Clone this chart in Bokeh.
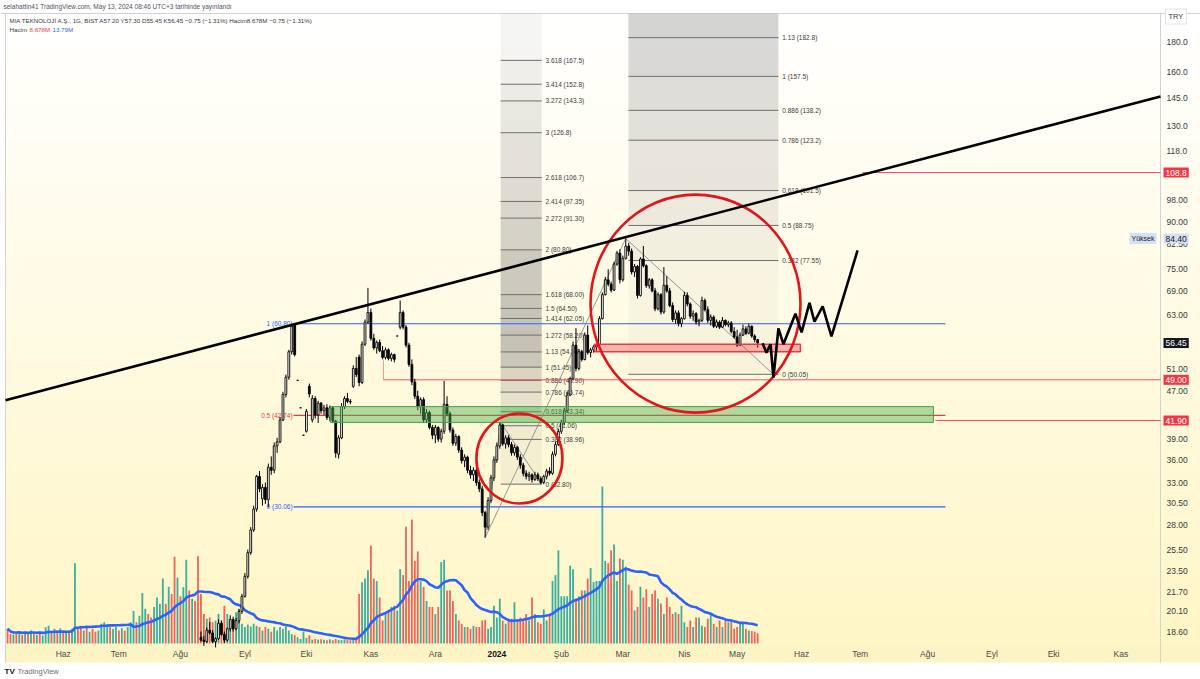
import numpy as np
import pandas as pd
from bokeh.plotting import figure
from bokeh.models import Range1d, LinearScale, Label
from bokeh.core.properties import value
from bokeh.embed import file_html
from bokeh.resources import INLINE

FONT = "Liberation Sans"

# ---------------- data ----------------
start_date = "2023-05-04"
end_date = "2024-05-13"
holidays = ["2023-05-19", "2023-06-28", "2023-06-29", "2023-06-30", "2023-08-30",
            "2024-01-01", "2024-04-10", "2024-04-11", "2024-04-12", "2024-04-23", "2024-05-01"]
month_names = {1: "Oca", 2: "Şub", 3: "Mar", 4: "Nis", 5: "May", 6: "Haz",
               7: "Tem", 8: "Ağu", 9: "Eyl", 10: "Eki", 11: "Kas", 12: "Ara"}

first_candle = 66  # bar index of first candle visible in the price range
opens = [
    18.2, 18.0, 17.9, 18.7, 18.5, 17.9, 18.1, 19.2, 18.4, 18.0,
    18.8, 19.5, 18.8, 19.4, 20.1, 21.3, 23.0, 25.2, 27.5, 29.8,
    33.8, 31.0, 32.4, 30.9, 35.0, 34.6, 38.0, 38.6, 42.0, 46.3,
    49.5, 54.6, 60.5, 48.9, 44.0, 39.6, 40.2, 47.8, 42.0, 45.6,
    42.8, 44.8, 43.5, 44.0, 42.4, 44.0, 41.8, 36.8, 39.2, 44.2,
    45.6, 45.1, 47.8, 51.2, 53.5, 48.5, 56.2, 61.2, 63.5, 57.5,
    55.4, 56.6, 54.8, 53.4, 55.0, 53.2, 54.0, 58.0, 60.0, 63.5,
    60.0, 56.0, 52.0, 48.6, 46.0, 44.2, 45.4, 42.0, 43.2, 40.8,
    39.6, 40.8, 39.0, 40.2, 44.6, 43.0, 40.4, 38.4, 39.4, 37.4,
    35.9, 36.4, 34.6, 34.0, 34.6, 33.0, 32.2, 29.4, 27.8, 30.8,
    33.6, 36.0, 38.0, 41.2, 38.3, 39.2, 38.2, 37.0, 37.8, 36.4,
    35.3, 34.2, 33.8, 34.0, 33.4, 34.0, 33.5, 33.0, 33.8, 34.5,
    34.2, 36.8, 38.2, 40.2, 41.6, 43.5, 46.2, 49.2, 56.0, 51.2,
    54.6, 53.0, 58.2, 54.4, 55.0, 55.6, 56.0, 62.0, 68.0, 72.0,
    70.8, 69.2, 76.5, 79.8, 72.0, 78.2, 82.0, 80.4, 74.2, 75.8,
    67.8, 78.0, 76.0, 70.4, 72.0, 69.0, 64.4, 68.0, 63.6, 70.5,
    69.0, 65.2, 61.8, 63.4, 60.8, 62.0, 67.8, 65.6, 62.6, 63.2,
    61.2, 61.6, 66.5, 64.2, 61.6, 62.4, 60.2, 61.2, 60.0, 61.6,
    60.6, 61.0, 59.0, 57.8, 56.0, 58.2, 59.6, 58.6, 60.2, 58.0, 57.2]
highs = [
    18.6, 18.3, 18.9, 19.3, 18.7, 18.2, 19.5, 19.4, 18.6, 18.9,
    19.8, 19.7, 19.6, 20.3, 21.5, 23.3, 25.5, 27.8, 30.2, 34.0,
    34.5, 32.8, 33.0, 35.5, 36.5, 38.5, 39.2, 42.5, 46.8, 50.0,
    55.0, 60.8, 60.8, 48.9, 44.0, 39.6, 43.8, 48.3, 46.2, 46.0,
    45.2, 45.0, 44.5, 44.6, 44.4, 44.2, 42.0, 39.6, 44.8, 46.0,
    46.6, 45.5, 51.8, 53.5, 54.0, 56.8, 61.8, 69.8, 64.5, 58.5,
    57.0, 57.2, 55.8, 55.5, 55.3, 54.4, 54.2, 58.0, 66.5, 64.0,
    60.5, 56.5, 53.0, 49.2, 47.0, 45.8, 45.8, 43.8, 43.5, 41.2,
    41.2, 41.0, 40.6, 48.8, 46.0, 43.4, 40.8, 39.8, 39.6, 37.8,
    36.8, 36.6, 35.2, 35.0, 34.8, 33.4, 32.6, 29.6, 31.2, 34.0,
    36.5, 38.5, 41.6, 41.4, 39.6, 39.6, 38.6, 38.2, 38.0, 36.8,
    35.6, 34.6, 34.4, 34.2, 34.4, 34.3, 33.8, 34.0, 34.8, 35.0,
    37.2, 38.6, 40.6, 42.0, 44.0, 46.8, 49.6, 56.8, 59.8, 55.2,
    55.0, 58.8, 60.4, 55.4, 56.0, 56.2, 62.6, 68.6, 72.8, 75.0,
    71.5, 77.2, 80.5, 81.0, 79.0, 84.4, 83.0, 81.2, 76.5, 76.2,
    78.5, 82.0, 76.4, 72.5, 72.4, 69.8, 68.6, 68.4, 75.6, 73.0,
    69.8, 66.0, 64.0, 64.0, 62.4, 68.8, 68.6, 66.0, 64.0, 63.6,
    62.0, 67.5, 67.0, 65.0, 63.0, 62.8, 61.8, 61.6, 62.4, 61.8,
    61.5, 61.4, 60.0, 59.4, 58.8, 60.6, 60.2, 60.8, 60.4, 58.4, 57.3]
lows = [
    17.9, 17.6, 17.8, 18.4, 17.8, 17.5, 18.0, 18.3, 17.8, 17.9,
    18.6, 18.6, 18.7, 19.2, 19.9, 21.2, 22.8, 25.0, 27.3, 29.5,
    31.8, 30.2, 30.4, 30.0, 34.0, 34.2, 37.0, 38.4, 41.8, 45.8,
    49.0, 54.0, 53.6, 48.9, 44.0, 39.6, 40.0, 45.8, 41.6, 42.2,
    41.5, 43.0, 42.8, 42.0, 41.8, 41.5, 36.3, 36.2, 39.0, 43.8,
    44.8, 44.6, 47.5, 49.5, 47.8, 48.2, 55.8, 60.8, 57.0, 55.0,
    54.2, 54.5, 53.0, 53.0, 52.8, 52.6, 52.4, 58.0, 59.5, 59.5,
    55.5, 51.5, 48.0, 45.5, 43.6, 43.0, 41.5, 41.5, 40.5, 39.0,
    38.4, 38.6, 38.5, 39.8, 42.6, 40.0, 38.0, 38.0, 37.0, 35.5,
    35.0, 34.2, 33.5, 33.2, 32.6, 31.8, 29.0, 26.7, 27.5, 30.5,
    33.2, 35.6, 37.6, 38.0, 37.6, 37.8, 36.6, 36.6, 36.0, 34.8,
    33.8, 33.4, 33.2, 33.0, 33.2, 33.2, 32.8, 32.8, 33.4, 33.9,
    34.0, 36.5, 38.0, 39.8, 41.2, 43.2, 46.0, 49.0, 50.6, 50.8,
    52.6, 52.8, 54.0, 53.4, 54.4, 54.8, 55.8, 61.8, 67.8, 70.2,
    68.6, 69.0, 76.0, 71.0, 71.5, 77.8, 79.0, 73.5, 72.8, 67.0,
    67.5, 75.5, 69.8, 69.6, 68.6, 63.8, 64.0, 63.0, 63.2, 68.5,
    64.8, 61.2, 60.8, 60.2, 60.0, 61.8, 65.0, 62.0, 61.5, 60.6,
    60.2, 61.2, 63.8, 61.0, 60.4, 59.8, 59.8, 59.6, 59.8, 60.2,
    60.0, 58.6, 57.4, 55.6, 55.8, 58.0, 58.2, 58.4, 57.6, 56.6, 55.45]
closes = [
    18.0, 17.9, 18.7, 18.5, 17.9, 18.1, 19.2, 18.4, 18.0, 18.8,
    19.5, 18.8, 19.4, 20.1, 21.3, 23.0, 25.2, 27.5, 29.8, 33.8,
    32.2, 32.4, 30.9, 35.0, 34.6, 38.0, 38.6, 42.0, 46.3, 49.5,
    54.6, 60.2, 54.0, 48.9, 44.0, 39.6, 43.4, 46.4, 45.6, 42.8,
    44.8, 43.5, 44.0, 42.4, 44.0, 41.8, 37.0, 39.2, 44.2, 45.6,
    45.1, 45.0, 51.2, 50.0, 48.5, 56.2, 61.2, 63.5, 57.5, 55.4,
    56.6, 54.8, 53.4, 55.0, 53.2, 54.0, 53.0, 58.0, 63.5, 60.0,
    56.0, 52.0, 48.6, 46.0, 44.2, 45.4, 42.0, 43.2, 40.8, 39.6,
    40.8, 39.0, 40.2, 44.6, 43.0, 40.4, 38.4, 39.4, 37.4, 35.9,
    36.4, 34.6, 34.0, 34.6, 33.0, 32.2, 29.4, 27.8, 30.8, 33.6,
    36.0, 38.0, 41.2, 38.3, 39.2, 38.2, 37.0, 37.8, 36.4, 35.3,
    34.2, 33.8, 34.0, 33.4, 34.0, 33.5, 33.0, 33.8, 34.5, 34.2,
    36.8, 38.2, 40.2, 41.6, 43.5, 46.2, 49.2, 56.0, 51.2, 54.6,
    53.0, 58.2, 54.4, 55.0, 55.6, 56.0, 62.0, 68.0, 72.0, 70.8,
    69.2, 76.5, 79.8, 72.0, 78.2, 82.0, 80.4, 74.2, 75.8, 67.8,
    78.0, 76.0, 70.4, 72.0, 69.0, 64.4, 68.0, 63.6, 70.5, 69.0,
    65.2, 61.8, 63.4, 60.8, 62.0, 67.8, 65.6, 62.6, 63.2, 61.2,
    61.6, 66.5, 64.2, 61.6, 62.4, 60.2, 61.2, 60.0, 61.6, 60.6,
    61.0, 59.0, 57.8, 56.0, 58.2, 59.6, 58.6, 60.2, 58.0, 57.2, 56.45]

# volume in millions, every bar from the first one
volumes = [
    12.5, 8, 7.6, 9, 10, 7.5, 10, 8, 11, 9,
    7.5, 10, 6.8, 13.8, 15, 10, 12.5, 11, 13, 9,
    10, 10, 12.5, 68, 12.5, 15, 11, 14, 10, 12.5,
    10, 11, 16.7, 18, 16, 14, 12.5, 14.5, 11, 13,
    11, 14, 18, 27.5, 18, 23.5, 42.7, 29.5, 25, 22,
    31, 39, 33.6, 55, 33.6, 48, 42, 73.5, 56, 40,
    47.7, 71, 45, 38, 36, 74, 42, 25, 21, 22,
    18, 19.5, 25, 19.5, 32, 25, 19.5, 16.7, 26.5, 29,
    16.7, 14, 16, 14.5, 16.7, 15, 14, 11, 14, 12.5,
    10, 14, 11, 14, 12.5, 14.5, 11, 8, 7, 5.3,
    3.8, 10, 4.8, 7, 3.2, 3.8, 3.2, 3.6, 3.2, 2.8,
    3.6, 2.8, 3.8, 3.2, 2.8, 3.6, 3.2, 2.8, 3.8, 3.0,
    42, 52, 55, 62, 83, 55, 53, 39, 19.5, 25,
    28, 31, 32, 28, 63, 58, 99, 53, 105, 70,
    78, 53, 48, 36, 31, 31, 25, 31, 69, 71,
    45, 45, 36, 25, 19.5, 16.7, 14, 14, 12.5, 15,
    14, 14, 19.5, 20, 12.5, 14, 32, 22, 38, 19.5,
    16.7, 21, 21, 35, 19.5, 22, 21, 25, 19.5, 39,
    25, 18, 16.7, 29, 19.5, 25, 53, 58, 79, 40,
    40, 40, 66, 63, 38, 40, 45, 45, 55, 64,
    52, 53, 53, 133, 70, 68, 79, 84, 53, 72,
    71, 65, 50, 45, 28, 31, 48, 39, 46, 31,
    42, 45, 38, 34, 25, 39, 31, 25, 26.5, 25,
    32, 18, 14, 19.5, 14, 22, 22, 15, 14, 21,
    26, 16.7, 14, 19.5, 14, 19.5, 18, 18.5, 12.5, 14,
    16.7, 18, 12.5, 11, 10.5, 10, 8.678]
# up/down flag of the bars whose candles lie below the visible price range
early_up = [
    0, 0, 1, 0, 1, 0, 1, 0, 1, 0,
    1, 0, 1, 1, 1, 0, 1, 0, 1, 0,
    1, 0, 1, 1, 0, 0, 1, 0, 1, 0,
    0, 1, 1, 1, 1, 0, 1, 1, 0, 1,
    0, 1, 1, 1, 0, 1, 1, 1, 0, 0,
    1, 1, 1, 1, 0, 1, 0, 0, 1, 0,
    1, 1, 0, 1, 0, 0]
vol_ma_length = 20
vol_ma_shown = 13.79  # MA value printed in the legend

price_ticks = [18.6, 20.1, 21.7, 23.5, 25.5, 28.0, 30.5, 33.0, 36.0, 39.0, 42.0, 47.0, 51.0,
               57.0, 63.0, 69.0, 75.0, 82.5, 90.0, 98.0, 108.0, 118.0, 130.0, 145.0, 160.0, 180.0]
price_tick_labels = ["18.60", "20.10", "21.70", "23.50", "25.50", "28.00", "30.50", "33.00",
                     "36.00", "39.00", "42.00", "47.00", "51.00", "57.00", "63.00", "69.00",
                     "75.00", "82.50", "90.00", "98.00", "108.0", "118.0", "130.0", "145.0",
                     "160.0", "180.0"]

# trend-based fib extension 1 (Dec-Jan) and 2 (Feb-May)
fib1_levels = [3.618, 3.414, 3.272, 3, 2.618, 2.414, 2.272, 2, 1.618, 1.5, 1.414, 1.272,
               1.13, 1, 0.886, 0.786, 0.618, 0.5, 0.382, 0]
fib1_prices = [167.5, 152.8, 143.3, 126.8, 106.7, 97.35, 91.30, 80.80, 68.00, 64.50, 62.05,
               58.20, 54.55, 51.45, 48.90, 46.74, 43.34, 41.06, 38.96, 32.80]
fib1_span = [168.3, 182.3]
fib2_levels = [1.13, 1, 0.886, 0.786, 0.618, 0.5, 0.382, 0]
fib2_prices = [182.8, 157.5, 138.2, 123.2, 101.5, 88.75, 77.55, 50.05]
fib2_span = [211.9, 263.1]
# fib anchor points (bar index, price)
anchor_a = (163, 26.7)
anchor_b = (168.3, 41.6)
anchor_c = (182.3, 32.8)
anchor_p = (211, 84.4)
anchor_d = (261.4, 50.05)

# fib retracement (Eyl)
retr_levels = [1, 0.5, 0]
retr_prices = [60.80, 42.74, 30.06]
retr_span = [97.6, 320.1]

# long trendline
trend_x = [-0.7, 393.5]
trend_p = [45.3, 145.8]

# hand drawn projection
zig_x = [257.7, 259.0, 260.4, 261.4, 263.1, 264.8, 268.9, 271.0, 273.7, 275.4, 278.2, 281.2, 290.1]
zig_p = [56.4, 54.4, 56.2, 49.4, 59.7, 56.2, 63.2, 58.8, 65.9, 61.3, 65.0, 57.9, 80.6]

# circles: centre (bar index, price), size in px
circle_x = [174.7, 234.8]
circle_p = [36.2, 65.7]
circle_w = [86, 210]
circle_h = [90, 218]

green_zone = dict(left=110.2, right=316.0, bottom=41.6, top=44.2)
red_zone = dict(left=200.3, right=270.6, bottom=54.6, top=56.2)
ray_start = [128.3, 316.7, 291.8]
ray_price = [49.00, 41.90, 108.8]

# ---------------- geometry (pixel <-> data, used only to place decorations) ----------------
W, H = 1200, 679
PANE_L, PANE_R, PANE_T, PANE_B = 5, 1160, 13, 645   # price pane
AXIS_B = 662                                         # bottom of time axis band
IX0, IX1 = -0.7, 393.5                               # bar index at pane left / right
PY_TOP, PY_BOT = 200.6, 17.63                        # price at pane top / bottom
V_BOT, V_TOP = -1.7, 534.0                           # volume at pane bottom / top
SX = (IX1 - IX0) / (PANE_R - PANE_L)
KY = (np.log(PY_TOP) - np.log(PY_BOT)) / (PANE_B - PANE_T)
KV = (V_TOP - V_BOT) / (PANE_B - PANE_T)


def ix(px):
    return IX0 + (px - PANE_L) * SX


def pr(py):
    return float(np.exp(np.log(PY_TOP) - (py - PANE_T) * KY))


def vv(py):
    return V_TOP - (py - PANE_T) * KV


hol = pd.to_datetime(holidays)
past = pd.bdate_range(start_date, end_date)
past = past[~past.isin(hol)]
future = pd.bdate_range(pd.Timestamp(end_date) + pd.Timedelta(days=1), periods=170)
dates = past.append(future)
tick_idx, tick_txt, year_idx, year_txt = [], [], [], []
for k in range(1, len(dates)):
    if dates[k].month != dates[k - 1].month and ix(1150) > k:
        if dates[k].month == 1:
            year_idx.append(k)
            year_txt.append(str(dates[k].year))
        else:
            tick_idx.append(k)
            tick_txt.append(month_names[dates[k].month])

p = figure(width=W, height=H, x_range=Range1d(ix(0), ix(W)), y_range=Range1d(pr(H), pr(0)),
           y_axis_type="log", x_axis_location=None, y_axis_location=None,
           output_backend="svg", toolbar_location=None,
           min_border=0, min_border_left=0, min_border_right=0, min_border_top=0,
           min_border_bottom=0, background_fill_color="white", border_fill_color="white",
           outline_line_color=None)
p.extra_y_ranges = {"vol": Range1d(vv(H), vv(0))}
p.extra_y_scales = {"vol": LinearScale()}
p.grid.visible = False

# background gradient of the pane (and price-scale column)
nb = 70
edges = np.exp(np.linspace(np.log(PY_TOP), np.log(PY_BOT), nb + 1))
tt = (np.arange(nb) + 0.5) / nb
top_rgb = np.array([255, 255, 255])
bot_rgb = np.array([255, 246, 198])
grad_cols = ["#%02x%02x%02x" % tuple(int(round(v)) for v in top_rgb * (1 - t) + bot_rgb * t) for t in tt]
p.quad(left=ix(PANE_L), right=ix(W), top=edges[:-1], bottom=edges[1:], fill_color=grad_cols,
       line_color=grad_cols, line_width=1)
# time-axis band
p.quad(left=ix(PANE_L), right=ix(W), top=pr(PANE_B), bottom=pr(AXIS_B), fill_color="#fdf4c6",
       line_color=None)
# frame lines
p.segment(x0=[ix(PANE_L), ix(PANE_R), ix(0)], x1=[ix(PANE_L), ix(PANE_R), ix(W)],
          y0=[pr(PANE_T), pr(PANE_T), pr(PANE_T)], y1=[pr(AXIS_B), pr(AXIS_B), pr(PANE_T)],
          line_color="#d2d2d2", line_width=1)

# fib extension rectangles
fib1_alpha = [0.08, 0.13, 0.15, 0.18, 0.22, 0.26, 0.30, 0.33, 0.40, 0.44, 0.45, 0.45,
              0.45, 0.42, 0.30, 0.25, 0.20, 0.15, 0.12, 0.08]
fib2_alpha = [0.34, 0.30, 0.26, 0.23, 0.19, 0.14, 0.10, 0.06]


def fmt_price(v):
    return f"{v:.1f}" if v >= 100 else f"{v:.2f}"


for levels, prices, span, alphas in [(fib1_levels, fib1_prices, fib1_span, fib1_alpha),
                                     (fib2_levels, fib2_prices, fib2_span, fib2_alpha)]:
    tops = [PY_TOP] + prices[:-1]
    p.quad(left=span[0], right=span[1], top=tops, bottom=prices, fill_color="#808080",
           fill_alpha=alphas, line_color=None)
    p.segment(x0=span[0], x1=span[1], y0=prices, y1=prices, line_color="#6e6e6e", line_width=1)
    p.text(x=span[1] + 1.3, y=prices, text=[f"{l:g} ({fmt_price(v)})" for l, v in zip(levels, prices)],
           text_font=value(FONT), text_font_size=value("6.5px"), text_baseline="middle",
           text_color="#3c3c3c")

# volume
idx_all = list(range(len(volumes)))
up_flags = early_up + [1 if c >= o else 0 for o, c in zip(opens, closes)]
vol_cols = ["#26a69a" if u else "#ef5350" for u in up_flags]
p.vbar(x=idx_all, top=volumes, bottom=0, width=0.62, fill_color=vol_cols, fill_alpha=0.9,
       line_color=None, y_range_name="vol")
vol_ma = pd.Series(volumes).rolling(vol_ma_length, min_periods=1).mean()
p.line(idx_all, vol_ma, line_color="#2962ff", line_width=2.6, y_range_name="vol")

# retracement lines
retr_cols = ["#2962ff", "#f23645", "#2962ff"]
p.segment(x0=retr_span[0], x1=retr_span[1], y0=retr_prices, y1=retr_prices,
          line_color=retr_cols, line_width=1.2)
p.text(x=retr_span[0] - 0.3, y=retr_prices,
       text=[f"{l:g} ({fmt_price(v)})" for l, v in zip(retr_levels, retr_prices)],
       text_color=retr_cols, text_font=value(FONT), text_font_size=value("6.5px"),
       text_align="right", text_baseline="middle")

# horizontal rays
p.segment(x0=ray_start, x1=ix(PANE_R), y0=ray_price, y1=ray_price, line_color="#f23645",
          line_width=1, line_alpha=0.85)
p.segment(x0=ray_start[0], x1=ray_start[0], y0=ray_price[0], y1=52.8, line_color="#f23645",
          line_width=1, line_alpha=0.5)

# anchor lines of the fib tools
for a, b in [(anchor_a, anchor_b), (anchor_b, anchor_c), (anchor_a, anchor_p), (anchor_p, anchor_d)]:
    p.line([a[0], b[0]], [a[1], b[1]], line_color="#8c8c8c", line_width=1, line_alpha=0.9)

# candles
cx = list(range(first_candle, first_candle + len(opens)))
body_top = [max(o, c) for o, c in zip(opens, closes)]
body_bot = [min(o, c) for o, c in zip(opens, closes)]
body_fill = ["#ffffff" if c >= o else "#000000" for o, c in zip(opens, closes)]
p.segment(x0=cx, x1=cx, y0=lows, y1=highs, line_color="#000000", line_width=1)
p.vbar(x=cx, top=body_top, bottom=body_bot, width=0.62, fill_color=body_fill,
       line_color="#000000", line_width=0.9)

# zones
p.quad(**green_zone, fill_color="#4caf50", fill_alpha=0.45, line_color="#43a047", line_width=1)
p.quad(**red_zone, fill_color="#f23645", fill_alpha=0.35, line_color="#f23645", line_width=1.5)

# circles
p.ellipse(x=circle_x, y=circle_p, width=circle_w, height=circle_h, width_units="screen",
          height_units="screen", fill_alpha=0, line_color="#e3151b", line_width=2.6)

# trendline and projection
p.line(trend_x, trend_p, line_color="#000000", line_width=2.6)
p.line(zig_x, zig_p, line_color="#000000", line_width=2.6)

# price scale
p.text(x=ix(1166), y=price_ticks, text=price_tick_labels, text_font=value(FONT),
       text_font_size=value("8.5px"), text_baseline="middle", text_color="#3a3a3a")
# time scale
p.text(x=tick_idx, y=pr(653.5), text=tick_txt, text_font=value(FONT), text_font_size=value("8.5px"),
       text_align="center", text_baseline="middle", text_color="#4a4a4a")
p.text(x=year_idx, y=pr(653.5), text=year_txt, text_font=value(FONT), text_font_size=value("8.5px"),
       text_font_style="bold", text_align="center", text_baseline="middle", text_color="#131722")

# header lines
last_o, last_h, last_l, last_c = opens[-1], highs[-1], lows[-1], closes[-1]
chg = last_c - closes[-2]
pct = chg / closes[-2] * 100
ch_txt = f"{chg:.2f} ({pct:.2f}%)".replace("-", "−")
p.add_layout(Label(x=ix(3), y=pr(6), text="selahattin41 TradingView.com, May 13, 2024 08:46 UTC+3 tarihinde yayınlandı",
                   text_baseline="middle", text_font=FONT, text_font_size="6.5px", text_color="#50535e"))
p.add_layout(Label(x=ix(9), y=pr(20),
                   text=f"MIA TEKNOLOJİ A.Ş., 1G, BIST  A{last_o:.2f}  Y{last_h:.2f}  D{last_l:.2f}  K{last_c:.2f}  {ch_txt}  Hacim{volumes[-1]:.3f}M  {ch_txt}",
                   text_baseline="middle", text_font=FONT, text_font_size="6.2px", text_color="#3a3a3a"))
p.add_layout(Label(x=ix(9), y=pr(29), text="Hacim", text_baseline="middle", text_font=FONT,
                   text_font_size="6.2px", text_color="#3a3a3a"))
p.add_layout(Label(x=ix(29), y=pr(29), text=f"{volumes[-1]:.3f}M", text_baseline="middle",
                   text_font=FONT, text_font_size="6.2px", text_color="#f23645"))
p.add_layout(Label(x=ix(52), y=pr(29), text=f"{vol_ma_shown:.2f}M", text_baseline="middle",
                   text_font=FONT, text_font_size="6.2px", text_color="#2962ff"))

# price-scale badges
badges = [(f"{ray_price[2]:.1f}", ray_price[2], "#f23645", "#ffffff"),
          (f"{max(highs):.2f}", max(highs), "#d3e1f4", "#131722"),
          (f"{last_c:.2f}", last_c, "#131722", "#ffffff"),
          (f"{ray_price[0]:.2f}", ray_price[0], "#f23645", "#ffffff"),
          (f"{ray_price[1]:.2f}", ray_price[1], "#f23645", "#ffffff")]
for txt, yv, bg, fg in badges:
    p.add_layout(Label(x=ix(1163), y=yv, text=txt, text_baseline="middle", text_font=FONT,
                       text_font_size="8.5px", text_color=fg, background_fill_color=bg,
                       padding=2))
p.add_layout(Label(x=ix(1129), y=max(highs), text="Yüksek", text_baseline="middle", text_font=FONT,
                   text_font_size="7px", text_color="#131722", background_fill_color="#d3e1f4",
                   padding=2))
p.add_layout(Label(x=ix(1165), y=pr(16), text="TRY", text_baseline="middle", text_font=FONT,
                   text_font_size="7.5px", text_color="#3a3a3a", background_fill_color="#ffffff",
                   border_line_color="#e3e3e3", padding=3))

# logo line
p.add_layout(Label(x=ix(4), y=pr(670.5), text="TV", text_baseline="middle", text_font=FONT,
                   text_font_size="8px", text_font_style="bold", text_color="#131722"))
p.add_layout(Label(x=ix(17), y=pr(670.5), text="TradingView", text_baseline="middle", text_font=FONT,
                   text_font_size="7.5px", text_color="#6a6d78"))

open("out.html", "w").write(file_html(p, INLINE))
